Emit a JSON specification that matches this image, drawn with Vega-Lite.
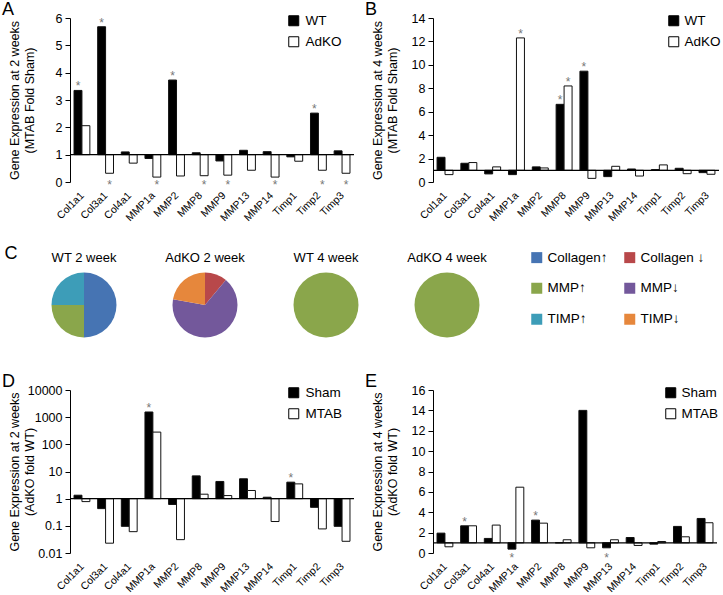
{
  "$schema": "https://vega.github.io/schema/vega-lite/v6.json",
  "padding": {"left": 1, "top": 1, "right": 0, "bottom": 0},
  "config": {
    "font": "Liberation Sans",
    "view": {"stroke": null},
    "axis": {"labelColor": "black", "titleColor": "black", "domainColor": "black", "tickColor": "black", "grid": false, "titleFontWeight": "normal", "titleFontSize": 12.5, "titleLineHeight": 15},
    "axisY": {"labelFontSize": 12.5, "tickSize": 5, "labelPadding": 3},
    "axisX": {"labelFontSize": 10.5, "domain": false, "ticks": false, "labelAngle": -45, "labelOffset": -3, "labelPadding": 8},
    "title": {"fontWeight": "normal", "color": "black", "fontSize": 18},
    "legend": {"labelColor": "black"}
  },
  "datasets": {
    "A": [
      {"gene": "Col1a1", "grp": "WT", "v": 3.35}, {"gene": "Col3a1", "grp": "WT", "v": 5.68}, {"gene": "Col4a1", "grp": "WT", "v": 1.10},
      {"gene": "MMP1a", "grp": "WT", "v": 0.86}, {"gene": "MMP2", "grp": "WT", "v": 3.73}, {"gene": "MMP8", "grp": "WT", "v": 1.07},
      {"gene": "MMP9", "grp": "WT", "v": 0.77}, {"gene": "MMP13", "grp": "WT", "v": 1.16}, {"gene": "MMP14", "grp": "WT", "v": 1.11},
      {"gene": "Timp1", "grp": "WT", "v": 0.92}, {"gene": "Timp2", "grp": "WT", "v": 2.52}, {"gene": "Timp3", "grp": "WT", "v": 1.14},
      {"gene": "Col1a1", "grp": "AdKO", "v": 2.06}, {"gene": "Col3a1", "grp": "AdKO", "v": 0.32}, {"gene": "Col4a1", "grp": "AdKO", "v": 0.69},
      {"gene": "MMP1a", "grp": "AdKO", "v": 0.18}, {"gene": "MMP2", "grp": "AdKO", "v": 0.22}, {"gene": "MMP8", "grp": "AdKO", "v": 0.23},
      {"gene": "MMP9", "grp": "AdKO", "v": 0.25}, {"gene": "MMP13", "grp": "AdKO", "v": 0.43}, {"gene": "MMP14", "grp": "AdKO", "v": 0.18},
      {"gene": "Timp1", "grp": "AdKO", "v": 0.76}, {"gene": "Timp2", "grp": "AdKO", "v": 0.43}, {"gene": "Timp3", "grp": "AdKO", "v": 0.32}
    ],
    "As": [
      {"gene": "Col1a1", "grp": "WT", "v": 3.35, "pos": "above"}, {"gene": "Col3a1", "grp": "WT", "v": 5.68, "pos": "above"},
      {"gene": "MMP2", "grp": "WT", "v": 3.73, "pos": "above"}, {"gene": "Timp2", "grp": "WT", "v": 2.52, "pos": "above"},
      {"gene": "Col3a1", "grp": "AdKO", "v": 0.32, "pos": "below"}, {"gene": "MMP1a", "grp": "AdKO", "v": 0.18, "pos": "below"},
      {"gene": "MMP8", "grp": "AdKO", "v": 0.23, "pos": "below"}, {"gene": "MMP9", "grp": "AdKO", "v": 0.25, "pos": "below"},
      {"gene": "MMP14", "grp": "AdKO", "v": 0.18, "pos": "below"}, {"gene": "Timp2", "grp": "AdKO", "v": 0.43, "pos": "below"},
      {"gene": "Timp3", "grp": "AdKO", "v": 0.32, "pos": "below"}
    ],
    "B": [
      {"gene": "Col1a1", "grp": "WT", "v": 2.11}, {"gene": "Col3a1", "grp": "WT", "v": 1.6}, {"gene": "Col4a1", "grp": "WT", "v": 0.69},
      {"gene": "MMP1a", "grp": "WT", "v": 0.63}, {"gene": "MMP2", "grp": "WT", "v": 1.29}, {"gene": "MMP8", "grp": "WT", "v": 6.63},
      {"gene": "MMP9", "grp": "WT", "v": 9.46}, {"gene": "MMP13", "grp": "WT", "v": 0.46}, {"gene": "MMP14", "grp": "WT", "v": 1.11},
      {"gene": "Timp1", "grp": "WT", "v": 1.06}, {"gene": "Timp2", "grp": "WT", "v": 1.17}, {"gene": "Timp3", "grp": "WT", "v": 0.8},
      {"gene": "Col1a1", "grp": "AdKO", "v": 0.63}, {"gene": "Col3a1", "grp": "AdKO", "v": 1.66}, {"gene": "Col4a1", "grp": "AdKO", "v": 1.29},
      {"gene": "MMP1a", "grp": "AdKO", "v": 12.3}, {"gene": "MMP2", "grp": "AdKO", "v": 1.2}, {"gene": "MMP8", "grp": "AdKO", "v": 8.2},
      {"gene": "MMP9", "grp": "AdKO", "v": 0.31}, {"gene": "MMP13", "grp": "AdKO", "v": 1.34}, {"gene": "MMP14", "grp": "AdKO", "v": 0.51},
      {"gene": "Timp1", "grp": "AdKO", "v": 1.46}, {"gene": "Timp2", "grp": "AdKO", "v": 0.71}, {"gene": "Timp3", "grp": "AdKO", "v": 0.66}
    ],
    "Bs": [
      {"gene": "MMP1a", "grp": "AdKO", "v": 12.3}, {"gene": "MMP8", "grp": "WT", "v": 6.63},
      {"gene": "MMP8", "grp": "AdKO", "v": 8.2}, {"gene": "MMP9", "grp": "WT", "v": 9.46}
    ],
    "D": [
      {"gene": "Col1a1", "grp": "Sham", "v": 1.34}, {"gene": "Col3a1", "grp": "Sham", "v": 0.43}, {"gene": "Col4a1", "grp": "Sham", "v": 0.096},
      {"gene": "MMP1a", "grp": "Sham", "v": 1550}, {"gene": "MMP2", "grp": "Sham", "v": 0.61}, {"gene": "MMP8", "grp": "Sham", "v": 6.9},
      {"gene": "MMP9", "grp": "Sham", "v": 4.3}, {"gene": "MMP13", "grp": "Sham", "v": 5.4}, {"gene": "MMP14", "grp": "Sham", "v": 1.13},
      {"gene": "Timp1", "grp": "Sham", "v": 4.05}, {"gene": "Timp2", "grp": "Sham", "v": 0.48}, {"gene": "Timp3", "grp": "Sham", "v": 0.096},
      {"gene": "Col1a1", "grp": "MTAB", "v": 0.78}, {"gene": "Col3a1", "grp": "MTAB", "v": 0.023}, {"gene": "Col4a1", "grp": "MTAB", "v": 0.061},
      {"gene": "MMP1a", "grp": "MTAB", "v": 282}, {"gene": "MMP2", "grp": "MTAB", "v": 0.031}, {"gene": "MMP8", "grp": "MTAB", "v": 1.46},
      {"gene": "MMP9", "grp": "MTAB", "v": 1.3}, {"gene": "MMP13", "grp": "MTAB", "v": 2.0}, {"gene": "MMP14", "grp": "MTAB", "v": 0.144},
      {"gene": "Timp1", "grp": "MTAB", "v": 3.5}, {"gene": "Timp2", "grp": "MTAB", "v": 0.077}, {"gene": "Timp3", "grp": "MTAB", "v": 0.027}
    ],
    "Ds": [
      {"gene": "MMP1a", "grp": "Sham", "v": 1550}, {"gene": "Timp1", "grp": "Sham", "v": 4.05}
    ],
    "E": [
      {"gene": "Col1a1", "grp": "Sham", "v": 1.95}, {"gene": "Col3a1", "grp": "Sham", "v": 2.67}, {"gene": "Col4a1", "grp": "Sham", "v": 1.43},
      {"gene": "MMP1a", "grp": "Sham", "v": 0.38}, {"gene": "MMP2", "grp": "Sham", "v": 3.23}, {"gene": "MMP8", "grp": "Sham", "v": 1.0},
      {"gene": "MMP9", "grp": "Sham", "v": 14.0}, {"gene": "MMP13", "grp": "Sham", "v": 0.51}, {"gene": "MMP14", "grp": "Sham", "v": 1.52},
      {"gene": "Timp1", "grp": "Sham", "v": 0.87}, {"gene": "Timp2", "grp": "Sham", "v": 2.61}, {"gene": "Timp3", "grp": "Sham", "v": 3.39},
      {"gene": "Col1a1", "grp": "MTAB", "v": 0.61}, {"gene": "Col3a1", "grp": "MTAB", "v": 2.67}, {"gene": "Col4a1", "grp": "MTAB", "v": 2.74},
      {"gene": "MMP1a", "grp": "MTAB", "v": 6.46}, {"gene": "MMP2", "grp": "MTAB", "v": 2.93}, {"gene": "MMP8", "grp": "MTAB", "v": 1.3},
      {"gene": "MMP9", "grp": "MTAB", "v": 0.51}, {"gene": "MMP13", "grp": "MTAB", "v": 1.3}, {"gene": "MMP14", "grp": "MTAB", "v": 0.74},
      {"gene": "Timp1", "grp": "MTAB", "v": 1.13}, {"gene": "Timp2", "grp": "MTAB", "v": 1.59}, {"gene": "Timp3", "grp": "MTAB", "v": 2.97}
    ],
    "Es": [
      {"gene": "Col3a1", "grp": "Sham", "v": 2.67, "pos": "above"}, {"gene": "MMP2", "grp": "Sham", "v": 3.23, "pos": "above"},
      {"gene": "MMP1a", "grp": "Sham", "v": 0.38, "pos": "below"}, {"gene": "MMP13", "grp": "Sham", "v": 0.51, "pos": "below"}
    ],
    "pies": [
      {"pie": "WT 2 week", "cat": "Collagen↑", "idx": 1, "n": 2},
      {"pie": "WT 2 week", "cat": "MMP↑", "idx": 3, "n": 1},
      {"pie": "WT 2 week", "cat": "TIMP↑", "idx": 5, "n": 1},
      {"pie": "AdKO 2 week", "cat": "Collagen ↓", "idx": 2, "n": 1},
      {"pie": "AdKO 2 week", "cat": "MMP↓", "idx": 4, "n": 6},
      {"pie": "AdKO 2 week", "cat": "TIMP↓", "idx": 6, "n": 2},
      {"pie": "WT 4 week", "cat": "MMP↑", "idx": 3, "n": 2},
      {"pie": "AdKO 4 week", "cat": "MMP↑", "idx": 3, "n": 2}
    ]
  },
  "columns": 1,
  "align": "none",
  "spacing": 35,
  "resolve": {"scale": {"fill": "independent", "color": "independent", "x": "independent", "y": "independent", "xOffset": "independent"}, "legend": {"fill": "independent"}},
  "concat": [
    {
      "columns": 1,
      "align": "none",
      "spacing": 20.5,
      "resolve": {"scale": {"fill": "independent", "color": "independent", "x": "independent", "y": "independent", "xOffset": "independent"}, "legend": {"fill": "independent"}},
      "concat": [
        {
          "spacing": 9,
          "resolve": {"scale": {"fill": "independent", "x": "independent", "y": "independent", "xOffset": "independent"}, "legend": {"fill": "independent"}},
          "hconcat": [
            {
              "width": 284, "height": 164,
              "title": {"text": "A", "anchor": "start", "frame": "bounds", "offset": -7, "dx": -6},
              "layer": [
                {"data": {"name": "A"}, "mark": {"type": "bar", "stroke": "#111", "strokeWidth": 1},
                 "encoding": {
                   "x": {"field": "gene", "type": "nominal", "title": null, "sort": ["Col1a1","Col3a1","Col4a1","MMP1a","MMP2","MMP8","MMP9","MMP13","MMP14","Timp1","Timp2","Timp3"], "scale": {"paddingInner": 0.33, "paddingOuter": 0.17}},
                   "xOffset": {"field": "grp", "type": "nominal", "sort": ["WT", "AdKO"]},
                   "y": {"field": "v", "type": "quantitative", "scale": {"domain": [0, 6], "nice": false}, "axis": {"values": [0,1,2,3,4,5,6], "title": ["Gene Expression at 2 weeks", "(MTAB Fold Sham)"], "titleX": -49, "titleY": 82, "titleLineHeight": 15}},
                   "y2": {"datum": 1},
                   "fill": {"field": "grp", "type": "nominal", "scale": {"domain": ["WT", "AdKO"], "range": ["black", "white"]},
                            "legend": {"title": null, "orient": "none", "legendX": 217, "legendY": -4, "labelFontSize": 13.5, "symbolType": "square", "symbolSize": 100, "symbolStrokeColor": "black", "symbolStrokeWidth": 1, "rowPadding": 6, "labelOffset": 5}}
                 }},
                {"data": {"values": [{}]}, "mark": {"type": "rule", "color": "black", "strokeWidth": 1.3},
                 "encoding": {"y": {"datum": 1, "type": "quantitative", "scale": {"domain": [0, 6], "nice": false}, "axis": {"values": [0,1,2,3,4,5,6], "title": ["Gene Expression at 2 weeks", "(MTAB Fold Sham)"], "titleX": -49, "titleY": 82, "titleLineHeight": 15}}}},
                {"data": {"name": "As"}, "transform": [{"filter": "datum.pos == 'above'"}],
                 "mark": {"type": "text", "text": "*", "color": "#777", "fontSize": 12, "baseline": "alphabetic"},
                 "encoding": {
                   "x": {"field": "gene", "type": "nominal", "title": null, "sort": ["Col1a1","Col3a1","Col4a1","MMP1a","MMP2","MMP8","MMP9","MMP13","MMP14","Timp1","Timp2","Timp3"]},
                   "xOffset": {"field": "grp", "type": "nominal", "sort": ["WT", "AdKO"]},
                   "y": {"field": "v", "type": "quantitative", "scale": {"domain": [0, 6], "nice": false}, "axis": {"values": [0,1,2,3,4,5,6], "title": ["Gene Expression at 2 weeks", "(MTAB Fold Sham)"], "titleX": -49, "titleY": 82, "titleLineHeight": 15}}}},
                {"data": {"name": "As"}, "transform": [{"filter": "datum.pos == 'below'"}],
                 "mark": {"type": "text", "text": "*", "color": "#777", "fontSize": 12, "baseline": "alphabetic", "dy": 7},
                 "encoding": {
                   "x": {"field": "gene", "type": "nominal", "title": null, "sort": ["Col1a1","Col3a1","Col4a1","MMP1a","MMP2","MMP8","MMP9","MMP13","MMP14","Timp1","Timp2","Timp3"]},
                   "xOffset": {"field": "grp", "type": "nominal", "sort": ["WT", "AdKO"]},
                   "y": {"datum": 0, "type": "quantitative", "scale": {"domain": [0, 6], "nice": false}, "axis": {"values": [0,1,2,3,4,5,6], "title": ["Gene Expression at 2 weeks", "(MTAB Fold Sham)"], "titleX": -49, "titleY": 82, "titleLineHeight": 15}}}}
              ]
            },
            {
              "width": 286, "height": 164,
              "title": {"text": "B", "anchor": "start", "frame": "bounds", "offset": -7, "dx": -6},
              "layer": [
                {"data": {"name": "B"}, "mark": {"type": "bar", "stroke": "#111", "strokeWidth": 1},
                 "encoding": {
                   "x": {"field": "gene", "type": "nominal", "title": null, "sort": ["Col1a1","Col3a1","Col4a1","MMP1a","MMP2","MMP8","MMP9","MMP13","MMP14","Timp1","Timp2","Timp3"], "scale": {"paddingInner": 0.33, "paddingOuter": 0.17}},
                   "xOffset": {"field": "grp", "type": "nominal", "sort": ["WT", "AdKO"]},
                   "y": {"field": "v", "type": "quantitative", "scale": {"domain": [0, 14], "nice": false}, "axis": {"values": [0,2,4,6,8,10,12,14], "title": ["Gene Expression at 4 weeks", "(MTAB Fold Sham)"], "titleX": -49, "titleY": 82, "titleLineHeight": 15}},
                   "y2": {"datum": 1},
                   "fill": {"field": "grp", "type": "nominal", "scale": {"domain": ["WT", "AdKO"], "range": ["black", "white"]},
                            "legend": {"title": null, "orient": "none", "legendX": 234, "legendY": -4, "labelFontSize": 13.5, "symbolType": "square", "symbolSize": 100, "symbolStrokeColor": "black", "symbolStrokeWidth": 1, "rowPadding": 6, "labelOffset": 4}}
                 }},
                {"data": {"values": [{}]}, "mark": {"type": "rule", "color": "black", "strokeWidth": 1.3},
                 "encoding": {"y": {"datum": 1, "type": "quantitative", "scale": {"domain": [0, 14], "nice": false}, "axis": {"values": [0,2,4,6,8,10,12,14], "title": ["Gene Expression at 4 weeks", "(MTAB Fold Sham)"], "titleX": -49, "titleY": 82, "titleLineHeight": 15}}}},
                {"data": {"name": "Bs"},
                 "mark": {"type": "text", "text": "*", "color": "#777", "fontSize": 12, "baseline": "alphabetic"},
                 "encoding": {
                   "x": {"field": "gene", "type": "nominal", "title": null, "sort": ["Col1a1","Col3a1","Col4a1","MMP1a","MMP2","MMP8","MMP9","MMP13","MMP14","Timp1","Timp2","Timp3"]},
                   "xOffset": {"field": "grp", "type": "nominal", "sort": ["WT", "AdKO"]},
                   "y": {"field": "v", "type": "quantitative", "scale": {"domain": [0, 14], "nice": false}, "axis": {"values": [0,2,4,6,8,10,12,14], "title": ["Gene Expression at 4 weeks", "(MTAB Fold Sham)"], "titleX": -49, "titleY": 82, "titleLineHeight": 15}}}}
              ]
            }
          ]
        },
        {
          "data": {"name": "pies"},
          "bounds": "flush",
          "title": {"text": "C", "anchor": "start", "frame": "bounds", "offset": 0, "dx": -47, "dy": 12.5},
          "facet": {"column": {"field": "pie", "type": "nominal", "sort": ["WT 2 week", "AdKO 2 week", "WT 4 week", "AdKO 4 week"],
                               "header": {"title": null, "labelFontSize": 13, "labelColor": "black", "labelPadding": 8}}},
          "spacing": {"column": 93},
          "spec": {
            "width": 28, "height": 65,
            "mark": {"type": "arc", "radius": 32.5},
            "encoding": {
              "theta": {"field": "n", "type": "quantitative", "stack": true},
              "order": {"field": "idx", "type": "quantitative"},
              "color": {"field": "cat", "type": "nominal",
                        "scale": {"domain": ["Collagen↑", "MMP↑", "TIMP↑", "Collagen ↓", "MMP↓", "TIMP↓"],
                                  "range": ["#4674b3", "#8aa64b", "#3d9db8", "#b8484a", "#73589b", "#e6873c"]},
                        "legend": {"title": null, "orient": "none", "legendX": 460, "legendY": -22, "columns": 2, "symbolType": "square", "symbolSize": 121, "labelFontSize": 13.5, "rowPadding": 16, "columnPadding": 15, "symbolStrokeWidth": 0, "labelOffset": 4}}
            }
          }
        }
      ]
    },
    {
      "spacing": 9,
      "resolve": {"scale": {"fill": "independent", "x": "independent", "y": "independent", "xOffset": "independent"}, "legend": {"fill": "independent"}},
      "hconcat": [
        {
          "width": 284, "height": 163,
          "title": {"text": "D", "anchor": "start", "frame": "bounds", "offset": -7, "dx": -6},
          "layer": [
            {"data": {"name": "D"}, "mark": {"type": "bar", "stroke": "#111", "strokeWidth": 1},
             "encoding": {
               "x": {"field": "gene", "type": "nominal", "title": null, "sort": ["Col1a1","Col3a1","Col4a1","MMP1a","MMP2","MMP8","MMP9","MMP13","MMP14","Timp1","Timp2","Timp3"], "scale": {"paddingInner": 0.33, "paddingOuter": 0.17}},
               "xOffset": {"field": "grp", "type": "nominal", "sort": ["Sham", "MTAB"]},
               "y": {"field": "v", "type": "quantitative", "scale": {"type": "log", "domain": [0.01, 10000], "nice": false}, "axis": {"values": [0.01, 0.1, 1, 10, 100, 1000, 10000], "format": "~g", "title": ["Gene Expression at 2 weeks", "(AdKO fold WT)"], "titleX": -49, "titleY": 81.5, "titleLineHeight": 15}},
               "y2": {"datum": 1},
               "fill": {"field": "grp", "type": "nominal", "scale": {"domain": ["Sham", "MTAB"], "range": ["black", "white"]},
                        "legend": {"title": null, "orient": "none", "legendX": 217, "legendY": -4, "labelFontSize": 13.5, "symbolType": "square", "symbolSize": 100, "symbolStrokeColor": "black", "symbolStrokeWidth": 1, "rowPadding": 6, "labelOffset": 5}}
             }},
            {"data": {"values": [{}]}, "mark": {"type": "rule", "color": "black", "strokeWidth": 1.3},
             "encoding": {"y": {"datum": 1, "type": "quantitative", "scale": {"type": "log", "domain": [0.01, 10000], "nice": false}, "axis": {"values": [0.01, 0.1, 1, 10, 100, 1000, 10000], "format": "~g", "title": ["Gene Expression at 2 weeks", "(AdKO fold WT)"], "titleX": -49, "titleY": 81.5, "titleLineHeight": 15}}}},
            {"data": {"name": "Ds"},
             "mark": {"type": "text", "text": "*", "color": "#777", "fontSize": 12, "baseline": "alphabetic"},
             "encoding": {
               "x": {"field": "gene", "type": "nominal", "title": null, "sort": ["Col1a1","Col3a1","Col4a1","MMP1a","MMP2","MMP8","MMP9","MMP13","MMP14","Timp1","Timp2","Timp3"]},
               "xOffset": {"field": "grp", "type": "nominal", "sort": ["Sham", "MTAB"]},
               "y": {"field": "v", "type": "quantitative", "scale": {"type": "log", "domain": [0.01, 10000], "nice": false}, "axis": {"values": [0.01, 0.1, 1, 10, 100, 1000, 10000], "format": "~g", "title": ["Gene Expression at 2 weeks", "(AdKO fold WT)"], "titleX": -49, "titleY": 81.5, "titleLineHeight": 15}}}}
          ]
        },
        {
          "width": 284, "height": 163,
          "title": {"text": "E", "anchor": "start", "frame": "bounds", "offset": -7, "dx": -6},
          "layer": [
            {"data": {"name": "E"}, "mark": {"type": "bar", "stroke": "#111", "strokeWidth": 1},
             "encoding": {
               "x": {"field": "gene", "type": "nominal", "title": null, "sort": ["Col1a1","Col3a1","Col4a1","MMP1a","MMP2","MMP8","MMP9","MMP13","MMP14","Timp1","Timp2","Timp3"], "scale": {"paddingInner": 0.33, "paddingOuter": 0.17}},
               "xOffset": {"field": "grp", "type": "nominal", "sort": ["Sham", "MTAB"]},
               "y": {"field": "v", "type": "quantitative", "scale": {"domain": [0, 16], "nice": false}, "axis": {"values": [0,2,4,6,8,10,12,14,16], "title": ["Gene Expression at 4 weeks", "(AdKO fold WT)"], "titleX": -49, "titleY": 81.5, "titleLineHeight": 15}},
               "y2": {"datum": 1},
               "fill": {"field": "grp", "type": "nominal", "scale": {"domain": ["Sham", "MTAB"], "range": ["black", "white"]},
                        "legend": {"title": null, "orient": "none", "legendX": 231, "legendY": -4, "labelFontSize": 13.5, "symbolType": "square", "symbolSize": 100, "symbolStrokeColor": "black", "symbolStrokeWidth": 1, "rowPadding": 6, "labelOffset": 4}}
             }},
            {"data": {"values": [{}]}, "mark": {"type": "rule", "color": "black", "strokeWidth": 1.3},
             "encoding": {"y": {"datum": 1, "type": "quantitative", "scale": {"domain": [0, 16], "nice": false}, "axis": {"values": [0,2,4,6,8,10,12,14,16], "title": ["Gene Expression at 4 weeks", "(AdKO fold WT)"], "titleX": -49, "titleY": 81.5, "titleLineHeight": 15}}}},
            {"data": {"name": "Es"}, "transform": [{"filter": "datum.pos == 'above'"}],
             "mark": {"type": "text", "text": "*", "color": "#777", "fontSize": 12, "baseline": "alphabetic"},
             "encoding": {
               "x": {"field": "gene", "type": "nominal", "title": null, "sort": ["Col1a1","Col3a1","Col4a1","MMP1a","MMP2","MMP8","MMP9","MMP13","MMP14","Timp1","Timp2","Timp3"]},
               "xOffset": {"field": "grp", "type": "nominal", "sort": ["Sham", "MTAB"]},
               "y": {"field": "v", "type": "quantitative", "scale": {"domain": [0, 16], "nice": false}, "axis": {"values": [0,2,4,6,8,10,12,14,16], "title": ["Gene Expression at 4 weeks", "(AdKO fold WT)"], "titleX": -49, "titleY": 81.5, "titleLineHeight": 15}}}},
            {"data": {"name": "Es"}, "transform": [{"filter": "datum.pos == 'below'"}],
             "mark": {"type": "text", "text": "*", "color": "#777", "fontSize": 12, "baseline": "alphabetic", "dy": 9},
             "encoding": {
               "x": {"field": "gene", "type": "nominal", "title": null, "sort": ["Col1a1","Col3a1","Col4a1","MMP1a","MMP2","MMP8","MMP9","MMP13","MMP14","Timp1","Timp2","Timp3"]},
               "xOffset": {"field": "grp", "type": "nominal", "sort": ["Sham", "MTAB"]},
               "y": {"datum": 0, "type": "quantitative", "scale": {"domain": [0, 16], "nice": false}, "axis": {"values": [0,2,4,6,8,10,12,14,16], "title": ["Gene Expression at 4 weeks", "(AdKO fold WT)"], "titleX": -49, "titleY": 81.5, "titleLineHeight": 15}}}}
          ]
        }
      ]
    }
  ]
}
